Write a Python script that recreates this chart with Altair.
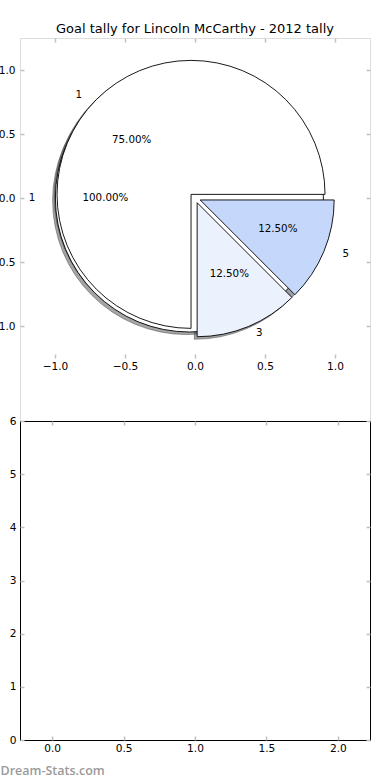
import altair as alt
import pandas as pd

TITLE = "Goal tally for Lincoln McCarthy - 2012 tally"
WATERMARK = "Dream-Stats.com"

# outer pie (one slice holding every game)
outer_labels = ["1"]
outer_values = [8]
outer_colors = ["#ffffff"]

# inner pie (games by goal tally)
inner_labels = ["1", "3", "5"]
inner_values = [6, 1, 1]
inner_colors = ["#ffffff", "#ebf1fd", "#c5d8fc"]

pie_ticks = [-1.0, -0.5, 0.0, 0.5, 1.0]
pie_limits = [-1.25, 1.25]

bottom_x_ticks = [0.0, 0.5, 1.0, 1.5, 2.0]
bottom_y_ticks = [0, 1, 2, 3, 4, 5, 6]
bottom_x_limits = [-0.225, 2.225]
bottom_y_limits = [0, 6]

# ---- styling / layout constants ----
EXPLODE = 0.04
SHADOW_OFF = -0.02
LABEL_DIST = 1.1
PCT_DIST = 0.6
RADIUS = 134
W, H = 350, 702
TOP_H = 320
BOT_TOP = 383
FONT = "DejaVu Sans"
TICK_COLOR = "#c0c0c0"


def shade(c):
    c = c.lstrip("#")
    r, g, b = (int(c[i:i + 2], 16) for i in (0, 2, 4))
    return "#%02x%02x%02x" % (int(r * 0.3), int(g * 0.3), int(b * 0.3))


rows = []
for i, (lab, v, col) in enumerate(zip(outer_labels, outer_values, outer_colors)):
    rows.append(dict(pie="outer", idx=i, label=lab, value=v, key=f"outer_{lab}", color=col))
for i, (lab, v, col) in enumerate(zip(inner_labels, inner_values, inner_colors)):
    rows.append(dict(pie="inner", idx=i, label=lab, value=v, key=f"inner_{lab}", color=col))
df = pd.DataFrame(rows)
keys = list(df["key"])
face_range = list(df["color"])
shadow_range = [shade(c) for c in face_range]

top_x = alt.Scale(domain=pie_limits, range=[0, W], nice=False, zero=False)
top_y = alt.Scale(domain=pie_limits, range=[TOP_H, 0], nice=False, zero=False)
bot_x = alt.Scale(domain=bottom_x_limits, range=[0, W], nice=False, zero=False)
bot_y = alt.Scale(domain=bottom_y_limits, range=[H, BOT_TOP], nice=False, zero=False)

tick_style = dict(tickColor=TICK_COLOR, tickWidth=1.5, tickSize=4, domain=False,
                  grid=False, title=None)
label_style = dict(labelFont=FONT, labelFontSize=10.6, labelColor="black")

base = (
    alt.Chart(df)
    .transform_joinaggregate(total="sum(value)", groupby=["pie"])
    .transform_window(cum="sum(value)", groupby=["pie"], sort=[alt.SortField("idx")],
                      frame=[None, 0])
    .transform_calculate(
        a1="2*PI*(datum.cum - datum.value)/datum.total",
        a2="2*PI*datum.cum/datum.total",
    )
    .transform_calculate(
        mid="(datum.a1 + datum.a2)/2",
        t1="PI/2 - datum.a1",
        t2="PI/2 - datum.a2",
    )
    .transform_calculate(
        cx=f"{EXPLODE}*cos(datum.mid)",
        cy=f"{EXPLODE}*sin(datum.mid)",
    )
    .transform_calculate(
        sx=f"datum.cx + ({SHADOW_OFF})",
        sy=f"datum.cy + ({SHADOW_OFF})",
        lx=f"datum.cx + {LABEL_DIST}*cos(datum.mid)",
        ly=f"datum.cy + {LABEL_DIST}*sin(datum.mid)",
        px=f"datum.cx + {PCT_DIST}*cos(datum.mid)",
        py=f"datum.cy + {PCT_DIST}*sin(datum.mid)",
        pct="format(100*datum.value/datum.total, '.2f') + '%'",
    )
)

theta = alt.Theta("t1:Q", scale=None, stack=None)
theta2 = alt.Theta2("t2:Q")

shadows = base.mark_arc(radius=RADIUS, fillOpacity=0.5, strokeOpacity=0.5, strokeWidth=1).encode(
    x=alt.X("sx:Q", scale=top_x,
            axis=alt.Axis(orient="top", values=pie_ticks, labels=False, offset=-4, **tick_style)),
    y=alt.Y("sy:Q", scale=top_y,
            axis=alt.Axis(orient="right", values=pie_ticks, labels=False, offset=-4, **tick_style)),
    theta=theta, theta2=theta2,
    fill=alt.Fill("key:N", scale=alt.Scale(domain=keys, range=shadow_range), legend=None),
    stroke=alt.Stroke("key:N", scale=alt.Scale(domain=keys, range=shadow_range), legend=None),
)

wedges = base.mark_arc(radius=RADIUS, stroke="black", strokeWidth=0.9).encode(
    x=alt.X("cx:Q", scale=top_x,
            axis=alt.Axis(orient="bottom", values=pie_ticks, format=".1f", offset=-(H - TOP_H) - 4,
                          labelPadding=3, **tick_style, **label_style)),
    y=alt.Y("cy:Q", scale=top_y,
            axis=alt.Axis(orient="left", values=pie_ticks, format=".1f", offset=-4,
                          labelPadding=5, **tick_style, **label_style)),
    theta=theta, theta2=theta2,
    fill=alt.Fill("key:N", scale=alt.Scale(domain=keys, range=face_range), legend=None),
)

txt = dict(font=FONT, fontSize=10.3, color="black", baseline="middle")
labels_left = base.transform_filter("datum.lx > 0").mark_text(align="left", **txt).encode(
    x=alt.X("lx:Q", scale=top_x, axis=None),
    y=alt.Y("ly:Q", scale=top_y, axis=None),
    text="label:N",
)
labels_right = base.transform_filter("datum.lx <= 0").mark_text(align="right", **txt).encode(
    x=alt.X("lx:Q", scale=top_x, axis=None),
    y=alt.Y("ly:Q", scale=top_y, axis=None),
    text="label:N",
)
pcts = base.mark_text(align="center", **txt).encode(
    x=alt.X("px:Q", scale=top_x, axis=None),
    y=alt.Y("py:Q", scale=top_y, axis=None),
    text="pct:N",
)

# ---- empty lower panel ----
empty = alt.Data(values=[])
frame_style = dict(domain=True, domainColor="black", domainWidth=1, ticks=False, labels=False,
                   grid=False)

bot_ticks_a = alt.Chart(empty).mark_point(opacity=0).encode(
    x=alt.X("x:Q", scale=bot_x,
            axis=alt.Axis(orient="bottom", values=bottom_x_ticks, format=".1f", offset=-4,
                          labelPadding=3, **tick_style, **label_style)),
    y=alt.Y("y:Q", scale=bot_y,
            axis=alt.Axis(orient="left", values=bottom_y_ticks, format="d", offset=-4,
                          labelPadding=4, **tick_style, **label_style)),
)
bot_ticks_b = alt.Chart(empty).mark_point(opacity=0).encode(
    x=alt.X("x:Q", scale=bot_x,
            axis=alt.Axis(orient="top", values=bottom_x_ticks, labels=False,
                          offset=-BOT_TOP - 4, **tick_style)),
    y=alt.Y("y:Q", scale=bot_y,
            axis=alt.Axis(orient="right", values=bottom_y_ticks, labels=False, offset=-4,
                          **tick_style)),
)
bot_frame_a = alt.Chart(empty).mark_point(opacity=0).encode(
    x=alt.X("x:Q", scale=bot_x,
            axis=alt.Axis(orient="bottom", offset=0, title=WATERMARK, titleX=-20, titleY=34,
                          titleAlign="left", titleAnchor="start", titleBaseline="alphabetic",
                          titleFont="Open Sans", titleFontSize=12.5, titleFontWeight=600,
                          titleColor="#9a9a9a", **frame_style)),
    y=alt.Y("y:Q", scale=bot_y, axis=alt.Axis(orient="left", offset=0, title=None, **frame_style)),
)
bot_frame_b = alt.Chart(empty).mark_point(opacity=0).encode(
    x=alt.X("x:Q", scale=bot_x,
            axis=alt.Axis(orient="top", offset=-BOT_TOP, title=None, **frame_style)),
    y=alt.Y("y:Q", scale=bot_y, axis=alt.Axis(orient="right", offset=0, title=None, **frame_style)),
)

chart = (
    alt.layer(shadows, wedges, labels_left, labels_right, pcts,
              bot_frame_a, bot_frame_b, bot_ticks_a, bot_ticks_b)
    .resolve_scale(x="independent", y="independent", fill="independent", stroke="independent")
    .resolve_axis(x="independent", y="independent")
    .properties(
        width=W, height=H,
        title=alt.TitleParams(TITLE, font=FONT, fontSize=13, fontWeight="normal", color="black",
                              anchor="middle", frame="group", baseline="alphabetic", offset=4,
                              dy=13),
        autosize=alt.AutoSizeParams(type="none"),
        padding={"left": 20, "top": 38, "right": 20, "bottom": 40},
    )
    .configure_view(stroke="transparent")
    .configure(background="white")
)

chart.save("out.html", embed_options={"renderer": "svg", "actions": False})
